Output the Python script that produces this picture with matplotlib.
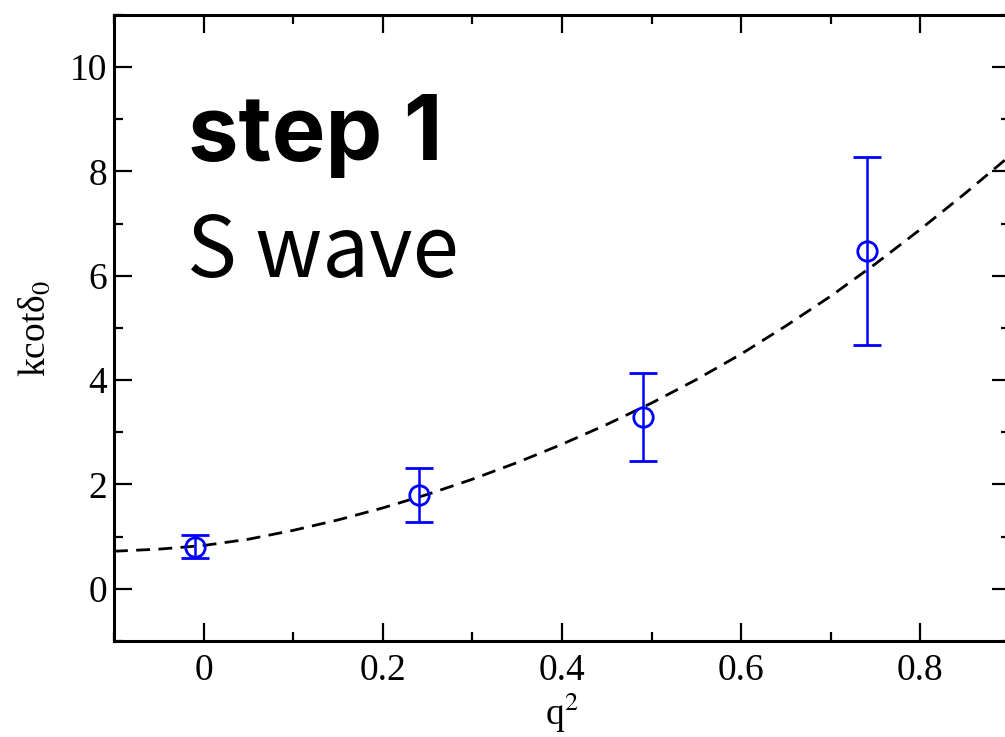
import numpy as np
import matplotlib
matplotlib.use("Agg")
import matplotlib.pyplot as plt
from matplotlib.ticker import MultipleLocator

# data points
q2 = [-0.01, 0.24, 0.49, 0.74]
kcot = [0.81, 1.80, 3.29, 6.47]
kcot_err = [0.22, 0.52, 0.84, 1.80]

fit_q2 = [-0.10, -0.05, 0.00, 0.05, 0.10, 0.15, 0.20, 0.25, 0.30, 0.35, 0.40,
          0.45, 0.50, 0.55, 0.60, 0.65, 0.70, 0.75, 0.80, 0.85, 0.90]
fit_kcot = [0.72, 0.76, 0.83, 0.95, 1.12, 1.32, 1.55, 1.81, 2.10, 2.42, 2.77,
            3.15, 3.56, 4.01, 4.50, 5.04, 5.61, 6.23, 6.89, 7.58, 8.30]

plt.rcParams['font.family'] = ['Liberation Serif', 'DejaVu Serif']
plt.rcParams['mathtext.fontset'] = 'stix'

fig = plt.figure(figsize=(10.05, 7.37), dpi=100)
ax = fig.add_axes([0.1134, 0.1303, 0.8915, 0.8494])

ax.plot(fit_q2, fit_kcot, color='black', lw=2.0, linestyle=(0, (5, 3)))
ax.errorbar(q2, kcot, yerr=kcot_err, fmt='o', ms=14, mfc='none', mec='blue',
            mew=2.0, ecolor='blue', elinewidth=1.8, capsize=10, capthick=1.8)

ax.set_xlim(-0.1, 0.9)
ax.set_ylim(-1, 11)
ax.xaxis.set_minor_locator(MultipleLocator(0.1))
ax.yaxis.set_minor_locator(MultipleLocator(1))
ax.set_xticks([0, 0.2, 0.4, 0.6, 0.8])
ax.set_xticklabels(['0', '0.2', '0.4', '0.6', '0.8'])
ax.set_yticks([0, 2, 4, 6, 8, 10])

ax.tick_params(which='both', direction='in', top=True, right=True,
               labelsize=27, width=1.6)
ax.tick_params(which='major', length=13)
ax.tick_params(which='minor', length=6.5)
ax.tick_params(axis='x', pad=9)
ax.tick_params(axis='y', pad=5)
for s in ax.spines.values():
    s.set_linewidth(2.2)

ax.set_xlabel('q$^2$', fontsize=27, labelpad=2)
ax.set_ylabel('kcotδ$_0$', fontsize=27, labelpad=12)

fig.text(0.187, 0.783, 'step 1', fontsize=65, fontweight='bold',
         family=['Inter', 'DejaVu Sans'])
fig.text(0.186, 0.624, 'S wave', fontsize=60,
         family=['Noto Sans CJK JP', 'DejaVu Sans'])

fig.savefig('out.png', dpi=100)
